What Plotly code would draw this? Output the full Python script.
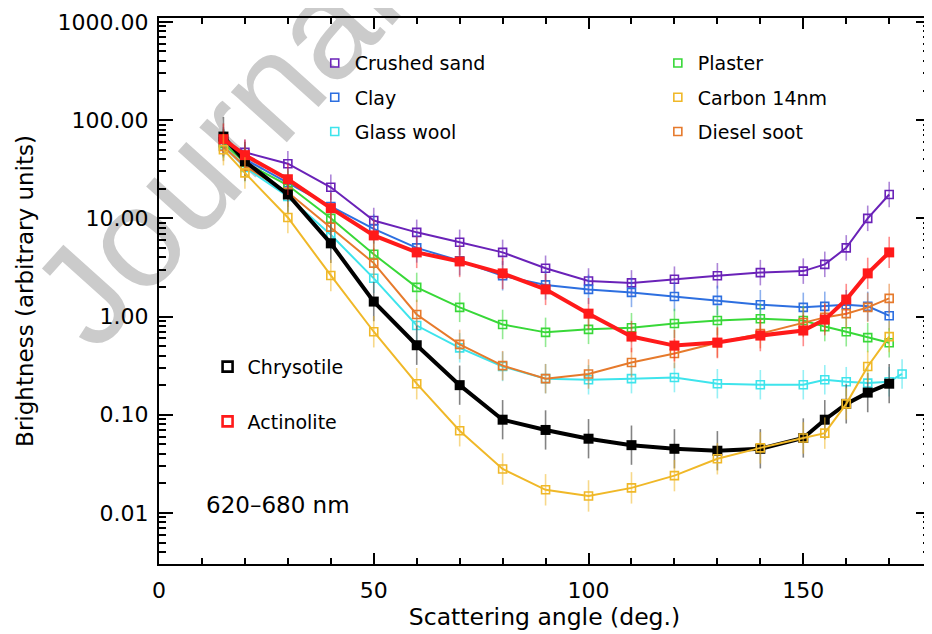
import numpy as np
import plotly.graph_objects as go

# ---------------- data ----------------
angles = [15, 20, 30, 40, 50, 60, 70, 80, 90, 100, 110, 120, 130, 140, 150, 155, 160, 165, 170]
glass_angles = angles + [173]

crushed_sand = [60, 47, 36, 20.7, 9.5, 7.2, 5.7, 4.5, 3.1, 2.3, 2.2, 2.4, 2.6, 2.8, 2.9, 3.4, 5.0, 10.0, 17.5]
clay = [60, 40, 23, 13.2, 7.8, 5.0, 3.7, 2.6, 2.1, 1.89, 1.76, 1.6, 1.46, 1.32, 1.24, 1.27, 1.32, 1.27, 1.02]
glass_wool = [55, 33, 16.7, 6.8, 2.45, 0.81, 0.48, 0.31, 0.233, 0.227, 0.233, 0.239, 0.207, 0.202, 0.202,
              0.227, 0.217, 0.21, 0.217, 0.26]
plaster = [58, 37, 21.7, 10, 4.3, 1.98, 1.24, 0.83, 0.69, 0.74, 0.77, 0.85, 0.91, 0.95, 0.91, 0.79, 0.70, 0.61, 0.54]
carbon_14nm = [50, 29, 10.2, 2.62, 0.70, 0.207, 0.0687, 0.028, 0.0172, 0.0149, 0.018, 0.024, 0.0356, 0.046,
               0.058, 0.065, 0.129, 0.31, 0.625]
diesel_soot = [54, 34, 18.4, 8.1, 3.5, 1.05, 0.52, 0.316, 0.233, 0.26, 0.34, 0.42, 0.54, 0.67, 0.87, 0.98, 1.07,
               1.24, 1.53]
chrysotile = [68, 38, 17.5, 5.56, 1.42, 0.51, 0.20, 0.089, 0.070, 0.057, 0.049, 0.045, 0.043, 0.045, 0.058,
              0.089, 0.129, 0.168, 0.207]
actinolite = [64, 44, 25, 12.7, 6.7, 4.5, 3.64, 2.75, 1.89, 1.07, 0.625, 0.506, 0.543, 0.64, 0.72, 0.93, 1.49,
              2.75, 4.5]

# error half-widths in decades (log10)
err_sand = 0.13
err_clay = 0.15
err_glass = 0.15
err_plaster = 0.15
err_carbon = 0.16
err_soot = 0.15
err_chrys = 0.2
err_actin = 0.16

y_tickvals = [0.01, 0.1, 1, 10, 100, 1000]
y_ticktext = ["0.01", "0.10", "1.00", "10.00", "100.00", "1000.00"]
x_tickvals = [0, 50, 100, 150]

FONT = "DejaVu Sans"


def rgba(hexc, a):
    h = hexc.lstrip("#")
    r, g, b = int(h[0:2], 16), int(h[2:4], 16), int(h[4:6], 16)
    return f"rgba({r},{g},{b},{a})"


def errs(vals, dex):
    v = np.array(vals, dtype=float)
    return v * (10 ** dex - 1), v * (1 - 10 ** (-dex))


fig = go.Figure()

# watermark (behind data)
fig.add_shape(type="line", xref="paper", yref="paper",
              x0=-0.114, y0=0.504, x1=0.233, y1=1.049,
              line=dict(color="rgba(0,0,0,0)", width=0), layer="below",
              label=dict(text="Journal", textangle=-48, textposition="middle", yanchor="middle",
                         xanchor="center",
                         font=dict(family="Liberation Sans", size=142, color="#cbcbcb")))


def thin(x, y, dex, color):
    up, dn = errs(y, dex)
    fig.add_trace(go.Scatter(
        x=x, y=y, mode="lines+markers", showlegend=False,
        line=dict(color=color, width=2),
        marker=dict(symbol="square-open", size=8, color=color, line=dict(width=1.6, color=color)),
        error_y=dict(type="data", symmetric=False, array=up, arrayminus=dn,
                     color=rgba(color, 0.55), thickness=1.6, width=0)))


def thick(x, y, dex, color):
    up, dn = errs(y, dex)
    fig.add_trace(go.Scatter(
        x=x, y=y, mode="lines+markers", showlegend=False,
        line=dict(color=color, width=4),
        marker=dict(symbol="square", size=10, color=color, line=dict(width=0)),
        error_y=dict(type="data", symmetric=False, array=up, arrayminus=dn,
                     color=rgba(color, 0.5) if color != "#000000" else "rgba(90,90,90,0.75)",
                     thickness=1.6, width=0)))


C_SAND, C_CLAY, C_GLASS = "#6a22b8", "#2d6fe0", "#3ee4ec"
C_PLAST, C_CARB, C_SOOT = "#38d838", "#f0b828", "#e67a2c"
C_CHRYS, C_ACT = "#000000", "#ff1a1a"

thin(angles, crushed_sand, err_sand, C_SAND)
thin(angles, clay, err_clay, C_CLAY)
thin(glass_angles, glass_wool, err_glass, C_GLASS)
thin(angles, plaster, err_plaster, C_PLAST)
thin(angles, diesel_soot, err_soot, C_SOOT)
thick(angles, chrysotile, err_chrys, C_CHRYS)
thick(angles, actinolite, err_actin, C_ACT)
thin(angles, carbon_14nm, err_carbon, C_CARB)

# legend-only entries
legend_items = [
    ("Crushed sand", C_SAND, "legend"), ("Clay", C_CLAY, "legend"), ("Glass wool", C_GLASS, "legend"),
    ("Plaster", C_PLAST, "legend2"), ("Carbon 14nm", C_CARB, "legend2"), ("Diesel soot", C_SOOT, "legend2"),
    ("Chrysotile", C_CHRYS, "legend3"), ("Actinolite", C_ACT, "legend3"),
]
for name, col, lg in legend_items:
    big = lg == "legend3"
    fig.add_trace(go.Scatter(
        x=[None], y=[None], mode="markers", name=name, legend=lg, legendgroup=name,
        marker=dict(symbol="square-open", size=10 if big else 8, color=col,
                    line=dict(width=2.6 if big else 1.6, color=col))))

legfont = dict(family=FONT, size=19, color="black")
common_leg = dict(xanchor="left", yanchor="top", bgcolor="rgba(0,0,0,0)", font=legfont,
                  itemsizing="trace", itemwidth=30)

# the page body adds an 8 px offset, so the figure is sized to the visible area
fig.update_layout(
    width=924, height=626,
    margin=dict(l=151, r=2, t=10, b=70, autoexpand=False),
    paper_bgcolor="white", plot_bgcolor="white",
    font=dict(family=FONT, size=22, color="black"),
    legend=dict(x=0.202, y=0.952, tracegroupgap=6.5, **common_leg),
    legend2=dict(x=0.647, y=0.952, tracegroupgap=6.5, **common_leg),
    legend3=dict(x=0.063, y=0.396, tracegroupgap=27, **common_leg),
    xaxis=dict(range=[0, 179.5], tickvals=x_tickvals, ticks="inside", ticklen=11, tickwidth=1.5,
               tickcolor="black", showline=True, linecolor="black", linewidth=2, mirror="ticks",
               showgrid=False, zeroline=False, ticklabelstandoff=6, automargin=False,
               tickfont=dict(family=FONT, size=22),
               minor=dict(tickvals=list(range(10, 180, 10)), ticks="inside", ticklen=6, tickwidth=1.5,
                          tickcolor="black", showgrid=False),
               title=dict(text="Scattering angle (deg.)", standoff=3, font=dict(family=FONT, size=23.5))),
    yaxis=dict(type="log", range=[-2.52, 3.04], tickvals=y_tickvals, ticktext=y_ticktext,
               ticks="inside", ticklen=14, tickwidth=1.5, tickcolor="black",
               showline=True, linecolor="black", linewidth=2, mirror="ticks",
               showgrid=False, zeroline=False, ticklabelstandoff=4, automargin=False,
               tickfont=dict(family=FONT, size=22),
               minor=dict(tickvals=[m * 10.0 ** e for e in range(-3, 4) for m in range(2, 10)],
                          ticks="inside", ticklen=7, tickwidth=1.5, tickcolor="black", showgrid=False),
               title=dict(text="Brightness (arbitrary units)", standoff=18, font=dict(family=FONT, size=23))),
)

fig.add_annotation(text="620–680 nm", xref="paper", yref="paper", x=0.058, y=0.108,
                   xanchor="left", yanchor="middle", showarrow=False,
                   font=dict(family=FONT, size=23, color="black"))

fig.write_html("out.html")
